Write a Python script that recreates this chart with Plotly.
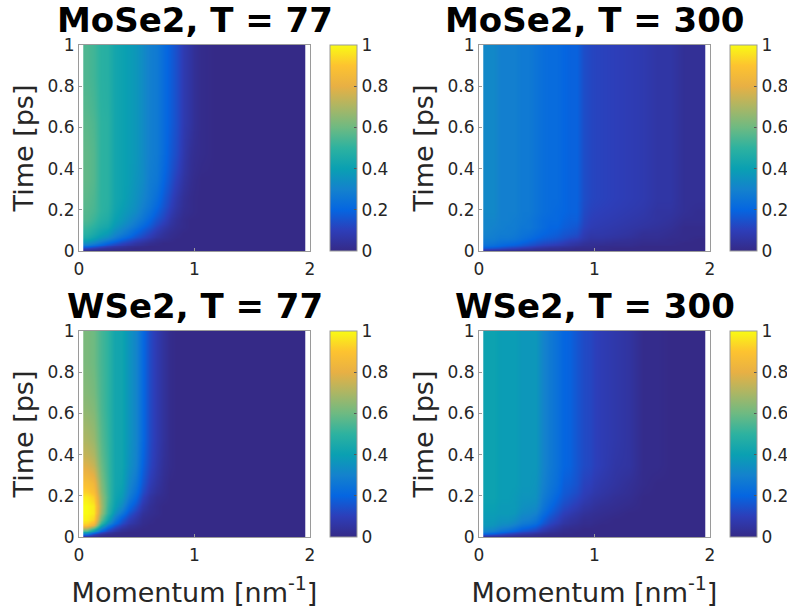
import plotly.graph_objects as go

k_edges = [0.037,0.10,0.16,0.22,0.28,0.34,0.40,0.46,0.52,0.58,0.64,0.70,0.76,0.82,0.88,0.94,1.00,1.12,1.24,1.36,1.48,1.60,1.72,1.84,1.957]
t_edges = [0,0.01,0.02,0.03,0.05,0.07,0.10,0.13,0.17,0.22,0.30,0.40,0.55,0.70,1.0]

mose2_77 = [
 [.03,.02,.01,.01],
 [.12,.09,.06,.04,.03,.02,.01],
 [.22,.18,.14,.10,.07,.05,.03,.02,.01],
 [.34,.30,.25,.20,.16,.12,.09,.06,.04,.02,.01],
 [.43,.39,.34,.30,.25,.20,.16,.12,.09,.06,.03,.02,.01],
 [.49,.45,.41,.38,.32,.28,.24,.19,.15,.11,.07,.04,.02,.01],
 [.52,.49,.45,.43,.37,.33,.29,.25,.20,.16,.11,.07,.04,.02,.01],
 [.55,.52,.48,.46,.40,.37,.33,.29,.25,.20,.15,.11,.06,.03,.01],
 [.56,.54,.50,.48,.42,.39,.36,.33,.28,.24,.19,.14,.09,.05,.02,.01],
 [.57,.55,.50,.49,.43,.41,.38,.35,.31,.27,.23,.17,.12,.07,.03,.01],
 [.58,.56,.50,.49,.43,.41,.39,.36,.33,.28,.26,.20,.15,.10,.05,.02],
 [.58,.56,.50,.49,.43,.41,.39,.37,.33,.29,.27,.22,.17,.13,.07,.03,.01],
 [.57,.55,.50,.49,.43,.41,.39,.37,.33,.29,.27,.22,.18,.14,.08,.05,.01],
 [.55,.53,.49,.48,.43,.41,.39,.37,.33,.29,.27,.22,.18,.14,.08,.05,.01],
]
mose2_300 = [
 [.06,.05,.04,.03,.03,.02,.02,.01,.01,.01,.01,.01],
 [.16,.15,.13,.11,.10,.08,.07,.05,.04,.03,.03,.02,.02,.01,.01,.01,.01],
 [.22,.21,.19,.17,.16,.14,.12,.10,.08,.07,.06,.05,.04,.03,.02,.02,.01,.01,.01],
 [.26,.25,.23,.22,.21,.19,.17,.15,.13,.12,.11,.09,.07,.06,.04,.03,.03,.02,.02,.01,.01,.01],
 [.28,.28,.26,.26,.25,.23,.21,.19,.17,.16,.15,.13,.11,.10,.07,.05,.05,.04,.03,.02,.02,.01,.01],
 [.30,.29,.28,.28,.27,.25,.24,.22,.20,.19,.18,.16,.15,.14,.09,.07,.07,.06,.05,.03,.03,.02,.01,.01],
 [.31,.30,.29,.28,.28,.26,.26,.24,.22,.20,.20,.18,.17,.16,.11,.09,.08,.07,.06,.05,.04,.03,.01,.01],
 [.31,.31,.29,.29,.28,.27,.26,.24,.22,.21,.21,.19,.18,.18,.12,.10,.09,.08,.07,.06,.05,.04,.02,.02],
 [.32,.32,.29,.29,.29,.27,.27,.25,.23,.22,.21,.20,.19,.19,.13,.11,.10,.09,.08,.07,.05,.05,.03,.02],
 [.32,.32,.29,.29,.29,.27,.27,.25,.23,.22,.22,.20,.19,.19,.14,.12,.11,.10,.09,.08,.06,.06,.03,.03],
 [.32,.32,.29,.29,.29,.27,.27,.25,.23,.22,.22,.20,.19,.19,.14,.12,.11,.10,.09,.08,.06,.06,.03,.03],
 [.32,.32,.29,.29,.29,.27,.27,.25,.23,.22,.22,.20,.19,.19,.14,.12,.11,.10,.09,.08,.06,.06,.03,.03],
 [.32,.32,.29,.29,.29,.27,.27,.25,.23,.22,.22,.20,.19,.19,.14,.12,.11,.10,.09,.08,.06,.06,.03,.03],
 [.32,.32,.29,.29,.29,.27,.27,.25,.23,.22,.22,.20,.19,.19,.14,.12,.11,.10,.09,.08,.06,.06,.03,.03],
]
wse2_77 = [
 [.08,.04,.01],
 [.25,.12,.05,.02,.01],
 [.42,.28,.14,.07,.03,.01],
 [.67,.50,.28,.16,.09,.04,.02,.01],
 [.90,.80,.45,.28,.17,.10,.05,.03,.01],
 [.98,.93,.60,.42,.27,.17,.10,.06,.02,.01],
 [1.0,.97,.68,.50,.35,.26,.16,.10,.04,.02,.01],
 [1.0,.97,.70,.52,.40,.33,.22,.15,.07,.03,.01],
 [.97,.92,.68,.54,.42,.38,.28,.21,.11,.05,.02,.01],
 [.88,.84,.64,.53,.43,.41,.32,.26,.16,.09,.05,.02],
 [.78,.74,.60,.52,.43,.42,.35,.30,.19,.12,.07,.03,.01],
 [.70,.67,.57,.51,.43,.42,.36,.31,.21,.13,.08,.04,.01],
 [.65,.63,.55,.50,.43,.42,.36,.31,.21,.13,.08,.04,.01],
 [.62,.60,.54,.50,.43,.42,.36,.31,.21,.13,.08,.04,.01],
]
wse2_300 = [
 [.06,.05,.04,.03,.02,.01,.01,.01],
 [.18,.16,.13,.10,.08,.06,.05,.03,.02,.01,.01],
 [.27,.25,.21,.18,.15,.12,.10,.08,.05,.03,.02,.01,.01],
 [.33,.32,.28,.26,.23,.19,.17,.14,.09,.06,.04,.02,.01,.01],
 [.37,.36,.33,.32,.29,.25,.23,.20,.14,.10,.07,.04,.03,.02,.01,.01],
 [.38,.38,.36,.36,.34,.30,.29,.26,.19,.14,.11,.07,.05,.04,.02,.02,.01],
 [.39,.39,.38,.38,.37,.33,.32,.30,.23,.18,.14,.10,.08,.06,.04,.03,.02,.01],
 [.40,.40,.38,.38,.38,.35,.34,.33,.26,.21,.17,.13,.11,.09,.06,.05,.03,.02,.01],
 [.41,.41,.39,.39,.38,.36,.36,.35,.28,.24,.20,.16,.14,.12,.09,.07,.05,.03,.02],
 [.41,.41,.39,.39,.39,.37,.37,.36,.30,.26,.23,.18,.17,.15,.11,.10,.07,.05,.03,.01],
 [.41,.41,.39,.39,.39,.37,.37,.37,.31,.27,.24,.20,.19,.16,.13,.12,.09,.06,.05,.01,.01],
 [.41,.41,.39,.39,.39,.37,.37,.37,.31,.27,.24,.20,.19,.16,.13,.12,.09,.07,.05,.01,.01],
 [.41,.41,.39,.39,.39,.37,.37,.37,.31,.27,.24,.20,.19,.16,.13,.12,.09,.07,.05,.01,.01],
 [.41,.41,.39,.39,.39,.37,.37,.37,.31,.27,.24,.20,.19,.16,.13,.12,.09,.07,.05,.01,.01],
]
panel_titles = ["MoSe2, T = 77", "MoSe2, T = 300", "WSe2, T = 77", "WSe2, T = 300"]
panel_data = [mose2_77, mose2_300, wse2_77, wse2_300]
axis_ticks_x = [0, 1, 2]
axis_ticks_y = [0, 0.2, 0.4, 0.6, 0.8, 1]
bar_ticks = [0, 0.2, 0.4, 0.6, 0.8, 1]
parula = [
 [0.0,"rgb(53,42,135)"],[0.1,"rgb(45,62,185)"],[0.2,"rgb(5,102,225)"],[0.3,"rgb(20,130,205)"],
 [0.4,"rgb(10,160,178)"],[0.5,"rgb(45,178,160)"],[0.6,"rgb(110,186,130)"],[0.7,"rgb(172,182,100)"],
 [0.8,"rgb(232,176,68)"],[0.9,"rgb(253,195,48)"],[1.0,"rgb(249,251,20)"],
]

W, H = 787, 610
LEFT = [79, 479]
TOP = [45, 331]
PW, PH = 231, 206
BAR_GAP, BAR_W = 20, 27
INK = "#262626"
LINE = "#9a9a9a"
FONT = "DejaVu Sans"

def pad(row):
    return row + [0] * (len(k_edges) - 1 - len(row))

fig = go.Figure()
layout = {}
for i, (name, data) in enumerate(zip(panel_titles, panel_data)):
    col, row = i % 2, i // 2
    x0, y0 = LEFT[col], TOP[row]
    sfx = "" if i == 0 else str(i + 1)
    fig.add_trace(go.Heatmap(
        x=k_edges, y=t_edges, z=[pad(r) for r in data], xaxis=f"x{sfx}", yaxis=f"y{sfx}",
        colorscale=parula, zmin=0, zmax=1, showscale=True, zsmooth="best",
        colorbar=dict(
            x=(x0 + PW + BAR_GAP) / W, xanchor="left", xpad=0, ypad=0,
            y=1 - (y0 + PH / 2) / H, yanchor="middle", len=PH / H, lenmode="fraction",
            thickness=BAR_W, thicknessmode="pixels", outlinecolor=LINE, outlinewidth=1,
            tickvals=bar_ticks, ticktext=[f"{v:g}" for v in bar_ticks],
            ticks="inside", ticklen=3, tickcolor="#555555",
            tickfont=dict(family=FONT, size=17, color=INK),
        ),
    ))
    layout[f"xaxis{sfx}"] = dict(
        domain=[x0 / W, (x0 + PW) / W], range=[0, 2], anchor=f"y{sfx}",
        tickvals=axis_ticks_x, ticktext=[f"{v:g}" for v in axis_ticks_x],
        ticks="inside", ticklen=3, tickcolor=LINE, showgrid=False, zeroline=False,
        showline=True, mirror=True, linecolor=LINE, linewidth=1, ticklabelstandoff=3,
        tickfont=dict(family=FONT, size=17, color=INK),
        title=dict(text="Momentum [nm<sup>-1</sup>]" if row == 1 else "",
                   font=dict(family=FONT, size=27, color=INK), standoff=18),
    )
    layout[f"yaxis{sfx}"] = dict(
        domain=[1 - (y0 + PH) / H, 1 - y0 / H], range=[0, 1], anchor=f"x{sfx}",
        tickvals=axis_ticks_y, ticktext=[f"{v:g}" for v in axis_ticks_y],
        ticks="inside", ticklen=3, tickcolor=LINE, showgrid=False, zeroline=False,
        showline=True, mirror=True, linecolor=LINE, linewidth=1,
        tickfont=dict(family=FONT, size=17, color=INK),
        title=dict(text="Time [ps]", font=dict(family=FONT, size=27, color=INK), standoff=6),
    )
    fig.add_annotation(
        text=f"<b>{name}</b>", xref="paper", yref="paper", x=(x0 + PW / 2) / W,
        y=1 - (y0 - 25) / H, xanchor="center", yanchor="middle", showarrow=False,
        font=dict(family=FONT, size=34, color="black"),
    )

fig.update_layout(width=W, height=H, autosize=False,
                  margin=dict(l=0, r=0, t=0, b=0, autoexpand=False),
                  paper_bgcolor="white", plot_bgcolor="white", **layout)
fig.write_html("out.html", config={"displayModeBar": False},
               post_script="document.body.style.margin='0';document.documentElement.style.overflow='hidden';")
